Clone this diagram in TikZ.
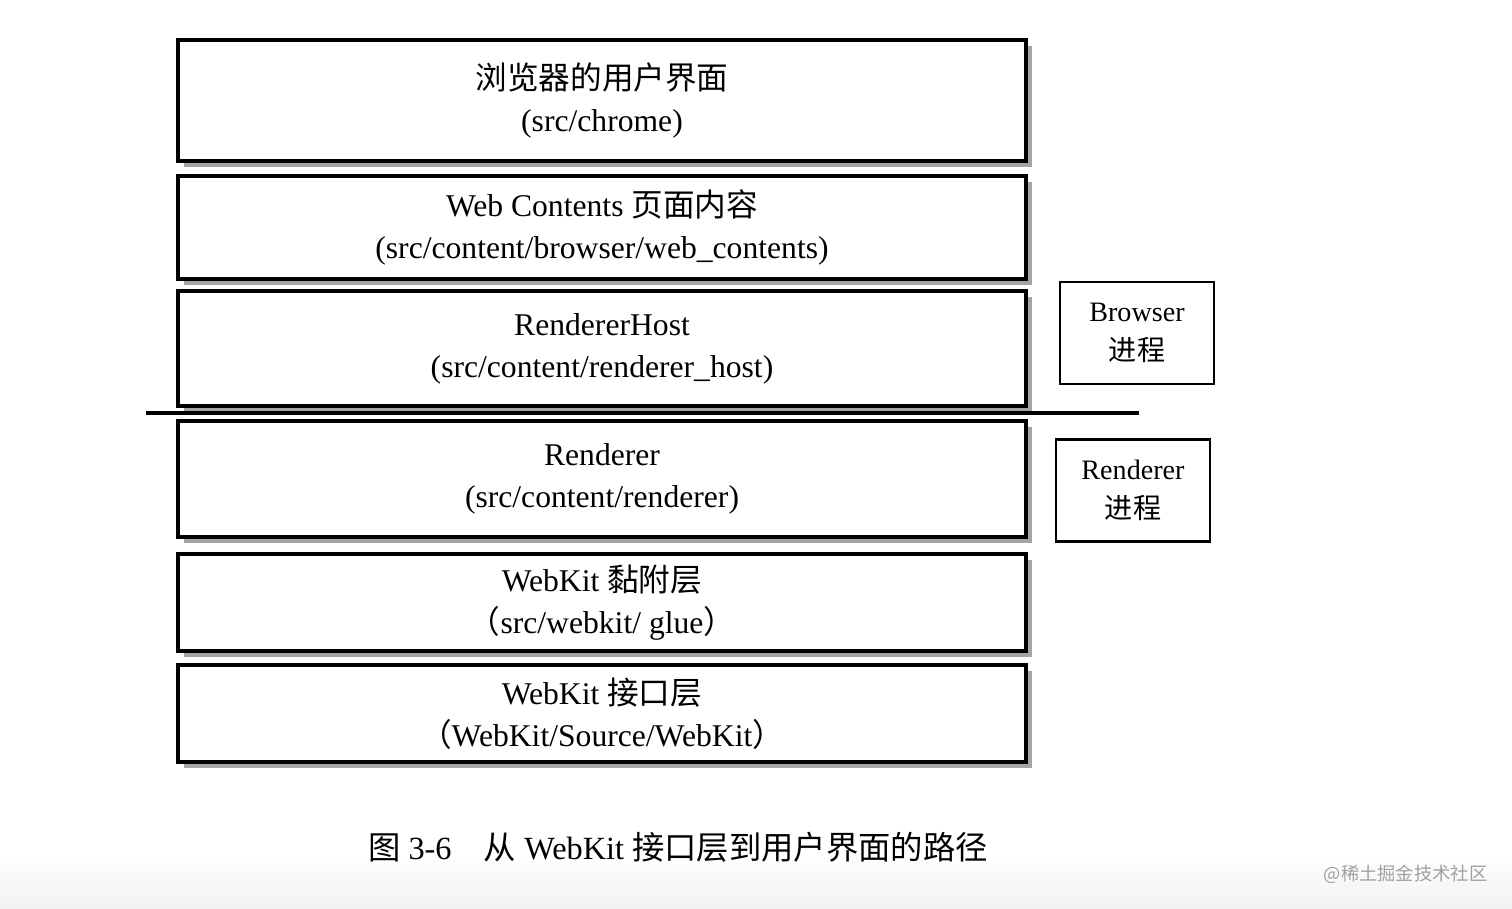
\documentclass[tikz,border=0pt]{standalone}
\usepackage{fontspec}
\setmainfont{Liberation Serif}
\newfontfamily\cjk{Noto Sans CJK SC}
\usetikzlibrary{
  positioning,
  shadows
}
\definecolor{wkShadow}{HTML}{A4A4A4}
\definecolor{wkMark}{HTML}{A0A0A0}
\definecolor{wkFade}{HTML}{F1F1F1}
\tikzset{
  layer/.style={
    draw, line width=1pt, fill=white, minimum width=8.48cm, inner sep=0pt, outer sep=0pt,
    align=center, font=\fontsize{9}{11.9}\selectfont,
    drop shadow={shadow xshift=0.6mm, shadow yshift=-0.6mm, fill=wkShadow, opacity=1}
  },
  procbox/.style={
    draw, line width=0.6pt, minimum width=1.54cm, minimum height=1.02cm,
    inner sep=0pt, align=center, font=\fontsize{8}{11}\selectfont
  },
  divider/.style={line width=1.1pt},
  caption/.style={font=\fontsize{9.2}{12}\selectfont},
  watermark/.style={font=\cjk\fontsize{5.2}{6}\selectfont, text=wkMark, inner sep=0pt}
}
\begin{document}
\begin{tikzpicture}
  \useasboundingbox (0,0) rectangle (15.12,-9.09);
  \shade[top color=white, bottom color=wkFade] (0,-8.55) rectangle (15.12,-9.09);
  % layers, top to bottom
  \node[layer, minimum height=1.21cm] (ui) at (6.02,-1.005) {{\cjk 浏览器的用户界面}\\(src/chrome)};
  \node[layer, minimum height=1.03cm, below=1.5mm of ui] (contents) {Web Contents {\cjk 页面内容}\\(src/content/browser/web\_contents)};
  \node[layer, minimum height=1.15cm, below=1.2mm of contents] (host) {RendererHost\\(src/content/renderer\_host)};
  \node[layer, minimum height=1.16cm, below=1.5mm of host] (renderer) {Renderer\\(src/content/renderer)};
  \node[layer, minimum height=0.97cm, below=1.7mm of renderer] (glue) {WebKit {\cjk 黏附层}\\{\cjk （}src/webkit/ glue{\cjk ）}};
  \node[layer, minimum height=0.97cm, below=1.4mm of glue] (api) {WebKit {\cjk 接口层}\\{\cjk （}WebKit/Source/WebKit{\cjk ）}};
  % process boundary
  \coordinate (sepL) at (1.46,-4.13);
  \coordinate (sepR) at (11.39,-4.13);
  \draw[divider] (sepL) -- (sepR);
  \node[procbox] (browserproc) at (11.37,-3.33) {Browser\\{\cjk 进程}};
  \node[procbox] (rendererproc) at (11.33,-4.905) {Renderer\\{\cjk 进程}};
  % caption
  \node[caption] (cap) at (6.78,-8.47) {{\cjk 图} 3-6\quad{\cjk 从} WebKit {\cjk 接口层到用户界面的路径}};
  \node[watermark, anchor=east] (wm) at (14.88,-8.74) {@稀土掘金技术社区};
\end{tikzpicture}
\end{document}
